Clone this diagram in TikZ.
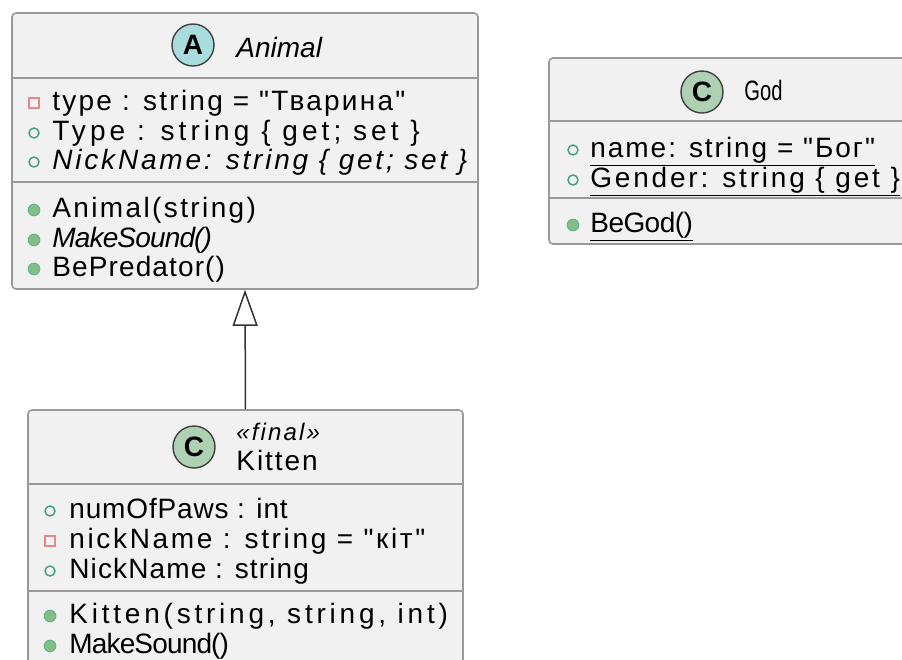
\documentclass[tikz,border=0pt]{standalone}
\usepackage{fontspec}
\usepackage{graphicx}
\setmainfont{Liberation Sans}[Ligatures=TeXOff]
\usetikzlibrary{fit,arrows.meta}
\definecolor{boxfill}{HTML}{F1F1F1}
\definecolor{boxline}{HTML}{999999}
\definecolor{abstractc}{HTML}{A9DCDF}
\definecolor{classc}{HTML}{ADD1B2}
\definecolor{privred}{HTML}{C82930}
\definecolor{pubgreen}{HTML}{038048}
\definecolor{methgreen}{HTML}{84BE84}
\newcommand{\ls}[1]{\addfontfeature{LetterSpace=#1}}
\tikzset{
  classbox/.style={draw=boxline, fill=boxfill, line width=0.8pt, rounded corners=2pt, inner sep=0pt},
  sep/.style={draw=boxline, line width=0.8pt},
  spot/.style={circle, draw=black!75, line width=0.7pt, minimum size=21pt, inner sep=0pt, font=\bfseries\fontsize{14}{14}\selectfont},
  member/.style={anchor=base west, inner sep=0pt, font=\fontsize{14}{16}\selectfont},
  pubfield/.style={circle, draw=pubgreen!75, fill=boxfill, line width=0.7pt, minimum size=5pt, inner sep=0pt},
  privfield/.style={rectangle, draw=privred!55, fill=boxfill, line width=0.9pt, minimum size=5pt, inner sep=0pt},
  pubmethod/.style={circle, draw=pubgreen!60, fill=methgreen, line width=0.5pt, minimum size=5.8pt, inner sep=0pt},
  inherit/.style={draw=black!80, line width=0.75pt, -{Triangle[open, length=18pt, width=12.5pt]}}
}
\begin{document}
\begin{tikzpicture}[x=0.5pt,y=-0.5pt]
	\useasboundingbox (0,0) rectangle (902,660);
	\fill[white] (0,0) rectangle (902,660);
	\clip (0,0) rectangle (902,660);

	% Animal
	\node[classbox, fit={(12,13) (478,289)}] (animal) {};
	\draw[sep] (12,78) -- (478,78);
	\draw[sep] (12,182) -- (478,182);
	\node[spot, fill=abstractc] (aspot) at (193,45) {A};
	\node[member] (aname) at (236,57) {\itshape Animal};
	\node[privfield] (atypei) at (34,103) {};
	\node[member] (atype) at (52,110) {\ls{8}type : string = "Тварина"};
	\node[pubfield] (aTypei) at (34,133) {};
	\node[member] (aType) at (52,140) {\ls{14.5}Type : string \{ get; set \}};
	\node[pubfield] (anicki) at (34,162) {};
	\node[member] (anick) at (52,169) {\itshape\ls{10}NickName: string \{ get; set \}};
	\node[pubmethod] (actori) at (34,210) {};
	\node[member] (actor) at (52,217) {\ls{8.5}Animal(string)};
	\node[pubmethod] (asoundi) at (34,240) {};
	\node[member] (asound) at (52,247) {\itshape\ls{-3}MakeSound()};
	\node[pubmethod] (apredi) at (34,269) {};
	\node[member] (apred) at (52,276) {\ls{4}BePredator()};

	% God
	\node[classbox, fit={(549,58) (940,244)}] (god) {};
	\draw[sep] (549,121) -- (940,121);
	\draw[sep] (549,198) -- (940,198);
	\node[spot, fill=classc] (gspot) at (702,92) {C};
	\node[member] (gname) at (744,100) {\scalebox{0.72}[1]{God}};
	\node[pubfield] (gnamei) at (573,150) {};
	\node[member] (gfname) at (590,157) {\underline{\ls{7}name: string = "Бог"}};
	\node[pubfield] (ggenderi) at (573,180) {};
	\node[member] (ggender) at (590,187) {\underline{\ls{10}Gender: string \{ get \}}};
	\node[pubmethod] (gbei) at (573,225) {};
	\node[member] (gbe) at (590,232) {\underline{\ls{-2}BeGod()}};

	% Kitten
	\node[classbox, fit={(28,410) (463,720)}] (kitten) {};
	\draw[sep] (28,484) -- (463,484);
	\draw[sep] (28,591) -- (463,591);
	\node[spot, fill=classc] (kspot) at (194,447) {C};
	\node[member, font=\itshape\fontsize{12}{14}\selectfont] (kstereo) at (236,440) {\ls{9}«final»};
	\node[member] (kname) at (236,470) {\ls{7}Kitten};
	\node[pubfield] (kpawsi) at (50,511) {};
	\node[member] (kpaws) at (69,518) {\ls{3}numOfPaws : int};
	\node[privfield] (knicki) at (50,541) {};
	\node[member] (knick) at (69,548) {\ls{9.5}nickName : string = "кіт"};
	\node[pubfield] (kNicki) at (50,571) {};
	\node[member] (kNick) at (69,578) {\ls{4}NickName : string};
	\node[pubmethod] (kctori) at (50,616) {};
	\node[member] (kctor) at (69,623) {\ls{13.5}Kitten(string, string, int)};
	\node[pubmethod] (ksoundi) at (50,646) {};
	\node[member] (ksound) at (69,653) {\ls{-3}MakeSound()};

	\draw[inherit] (kitten.north) -- (animal.south);
\end{tikzpicture}
\end{document}
